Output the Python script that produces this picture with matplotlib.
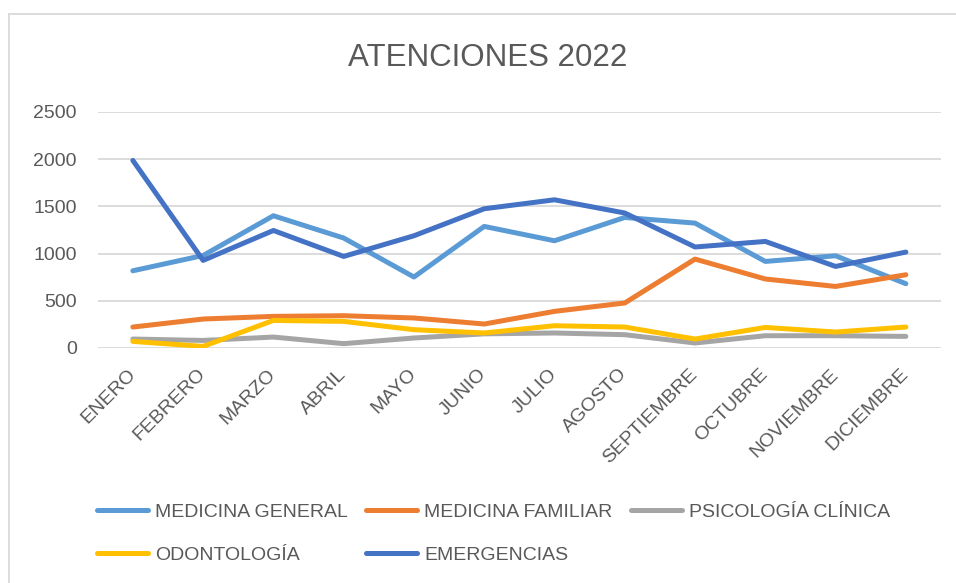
import numpy as np
import matplotlib
matplotlib.use('Agg')
import matplotlib.pyplot as plt
from matplotlib.lines import Line2D

plt.rcParams['font.family'] = ['Liberation Sans', 'DejaVu Sans']

# Data
meses = ['ENERO', 'FEBRERO', 'MARZO', 'ABRIL', 'MAYO', 'JUNIO', 'JULIO',
         'AGOSTO', 'SEPTIEMBRE', 'OCTUBRE', 'NOVIEMBRE', 'DICIEMBRE']
medicina_general = [818, 980, 1401, 1165, 752, 1288, 1136, 1383, 1323, 917, 977, 681]
medicina_familiar = [222, 307, 335, 342, 318, 254, 388, 477, 942, 731, 652, 776]
psicologia_clinica = [95, 80, 116, 46, 106, 150, 159, 141, 53, 130, 130, 123]
odontologia = [70, 17, 292, 282, 194, 159, 236, 222, 95, 218, 169, 222]
emergencias = [1987, 928, 1245, 970, 1189, 1475, 1570, 1430, 1070, 1129, 864, 1016]

series = [
    ('MEDICINA GENERAL', medicina_general, '#5B9BD5'),
    ('MEDICINA FAMILIAR', medicina_familiar, '#ED7D31'),
    ('PSICOLOGÍA CLÍNICA', psicologia_clinica, '#A5A5A5'),
    ('ODONTOLOGÍA', odontologia, '#FFC000'),
    ('EMERGENCIAS', emergencias, '#4472C4'),
]

W, H = 956, 583
fig = plt.figure(figsize=(W / 100, H / 100), dpi=100)
ax = fig.add_axes([97.7 / W, 1 - 348 / H, (941 - 97.7) / W, (348 - 112) / H])

x = np.arange(len(meses))
lines = {}
for name, vals, color in series:
    ln, = ax.plot(x, vals, color=color, lw=3.6, solid_capstyle='round',
                  solid_joinstyle='round', label=name)
    lines[name] = ln

ax.set_xlim(-0.5, 11.5)
ax.set_ylim(0, 2500)
ax.set_yticks(range(0, 2501, 500))
ax.yaxis.grid(True, color='#D9D9D9', lw=1.3)
ax.set_axisbelow(True)
for s in ax.spines.values():
    s.set_visible(False)
ax.tick_params(axis='both', length=0, labelsize=14, colors='#595959')
ax.tick_params(axis='y', pad=15)
ax.set_xticks(x)
ax.set_xticklabels(meses, rotation=45, ha='right', va='center',
                   rotation_mode='anchor')
ax.tick_params(axis='x', pad=17)

# Title
fig.text(488 / W, 1 - 58 / H, 'ATENCIONES 2022', ha='center', va='center',
         fontsize=22.5, color='#595959')

# Legend, row-major order like Excel
order = ['MEDICINA GENERAL', 'ODONTOLOGÍA', 'MEDICINA FAMILIAR',
         'EMERGENCIAS', 'PSICOLOGÍA CLÍNICA']
leg = fig.legend([lines[n] for n in order], order, ncol=3, loc='upper left',
                 bbox_to_anchor=(97 / W, 1 - 503 / H), frameon=False,
                 fontsize=14, handlelength=2.63, handletextpad=0.36,
                 columnspacing=0.93, labelspacing=1.3, borderpad=0,
                 borderaxespad=0)
for t in leg.get_texts():
    t.set_color('#595959')

# Chart border (cropped on right and bottom)
fig.add_artist(Line2D([9 / W, 9 / W], [0, 1 - 14 / H], transform=fig.transFigure,
                      color='#D9D9D9', lw=1.3))
fig.add_artist(Line2D([9 / W, 1], [1 - 14 / H, 1 - 14 / H], transform=fig.transFigure,
                      color='#D9D9D9', lw=1.3))

fig.savefig('out.png', dpi=100)
